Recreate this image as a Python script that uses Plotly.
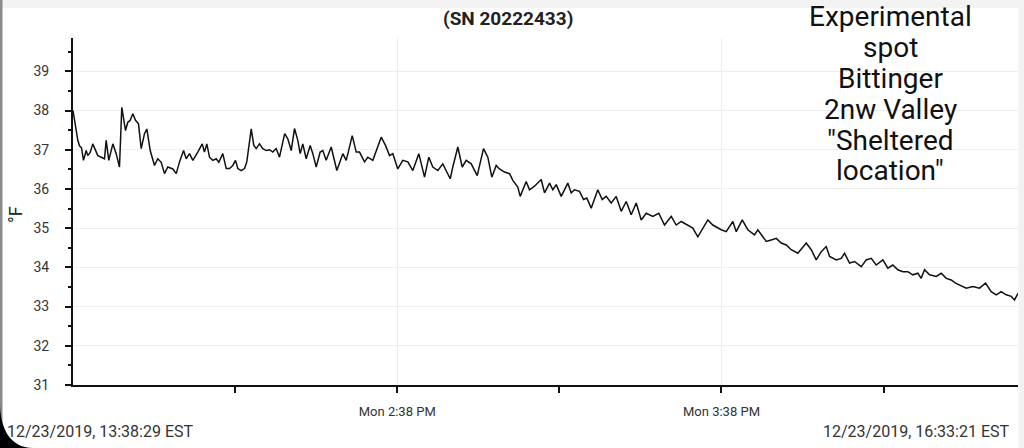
import datetime as dt
import plotly.graph_objects as go

# ---------------- data ----------------
start_time = "2019-12-23 13:38:29"
end_time = "2019-12-23 16:33:21"

# elapsed minutes since start
minutes = [
    0.00, 0.46, 0.89, 1.20, 1.57, 1.94, 2.44, 2.74, 3.18, 3.66, 4.29, 4.59, 5.22, 5.83,
    6.14, 6.62, 7.37, 7.99, 8.60, 9.03, 9.72, 10.14, 10.58, 11.07, 11.57, 12.12, 12.62,
    13.23, 13.66, 14.29, 15.08, 15.69, 16.32, 16.93, 17.54, 18.47, 19.10, 19.71, 20.46,
    20.95, 21.56, 22.17, 23.09, 23.91, 24.33, 24.76, 25.26, 25.87, 26.50, 26.98, 27.72,
    28.35, 28.96, 29.57, 30.07, 30.50, 31.13, 31.74, 32.16, 32.98, 33.46, 33.90, 34.51,
    35.12, 35.75, 36.36, 36.97, 37.60, 38.21,
    39.17, 39.75, 40.38, 40.99, 41.60, 42.04, 42.52, 43.15, 43.89, 44.38, 45.00, 45.74,
    46.23, 46.85, 47.78, 48.82, 49.93, 50.56, 51.67, 52.41, 53.02, 53.94, 54.55, 55.48,
    56.11, 57.03, 57.83, 58.57, 59.18, 60.10, 61.03, 61.96, 62.88, 63.99, 65.05, 65.84,
    66.58, 67.51, 68.43, 69.06, 69.80, 70.28, 71.21, 72.02, 72.76, 73.69, 74.80, 75.96,
    76.76, 77.50, 78.31, 78.92, 79.85, 80.78, 81.39, 82.31, 82.75,
    83.86, 84.47, 85.40, 86.64, 87.25, 88.18, 88.79, 89.42, 90.34, 91.56, 92.19, 92.80,
    93.73, 94.47, 95.08, 95.89, 97.11, 97.93, 98.67, 99.59, 100.52, 101.44, 102.37,
    103.29, 104.22, 105.15, 106.07, 107.29, 108.40, 109.46, 110.70, 111.62, 112.55,
    113.77, 114.69, 115.62, 116.54, 117.47, 118.39, 119.32, 119.95, 120.87, 122.10,
    122.73, 123.84, 124.87, 126.11,
    126.72, 127.35, 128.28, 129.20, 130.13, 131.05, 131.98, 132.90, 134.13, 135.68,
    136.61, 137.53, 138.46, 139.38, 140.00, 141.23, 142.16, 142.77, 143.70, 144.62,
    145.86, 146.78, 147.71, 148.63, 149.86, 150.78, 151.71, 152.63, 153.56, 154.48,
    155.41, 156.33, 156.96, 157.57, 158.50, 159.74, 160.66, 161.59, 162.51, 163.31,
    164.05, 165.29, 166.51, 167.75, 168.86, 169.91, 170.84, 171.76, 172.69, 173.61,
    174.22, 174.87,
]

# temperature, degrees F
temps_f = [
    38.00, 37.60, 37.24, 37.10, 37.05, 36.73, 36.98, 36.85, 36.93, 37.15, 36.94, 36.85,
    36.81, 36.77, 37.24, 36.73, 37.15, 36.90, 36.56, 38.08, 37.49, 37.70, 37.75, 37.92,
    37.75, 37.66, 37.03, 37.41, 37.53, 36.98, 36.60, 36.77, 36.68, 36.39, 36.56, 36.51,
    36.39, 36.69, 36.98, 36.77, 36.90, 36.73, 36.94, 37.15, 36.94, 37.15, 36.81, 36.73,
    36.77, 36.68, 36.90, 36.52, 36.52, 36.60, 36.73, 36.52, 36.47, 36.52, 36.69, 37.53,
    37.11, 37.03, 37.15, 37.03, 36.98, 37.00, 36.94, 37.03, 36.81,
    37.41, 37.28, 36.98, 37.54, 37.24, 36.90, 37.15, 36.77, 37.11, 36.90, 36.56, 36.94,
    36.98, 36.73, 37.07, 36.47, 36.90, 36.73, 37.36, 36.94, 36.94, 36.69, 36.81, 36.73,
    36.98, 37.32, 37.11, 36.85, 36.90, 36.51, 36.73, 36.69, 36.47, 36.90, 36.30, 36.81,
    36.56, 36.47, 36.64, 36.47, 36.26, 36.56, 37.07, 36.56, 36.73, 36.64, 36.34, 37.03,
    36.81, 36.30, 36.60, 36.51, 36.43, 36.39, 36.22, 36.05, 35.81,
    36.19, 35.98, 36.07, 36.24, 35.90, 36.15, 35.98, 36.11, 35.81, 36.15, 35.90, 35.98,
    35.94, 35.73, 35.77, 35.51, 35.98, 35.73, 35.81, 35.64, 35.81, 35.43, 35.68,
    35.34, 35.64, 35.21, 35.38, 35.30, 35.38, 35.08, 35.30, 35.08, 35.17,
    35.08, 35.00, 34.78, 35.00, 35.21, 35.08, 35.00, 34.96, 34.91, 35.17,
    34.91, 35.21, 34.96, 34.83,
    34.96, 34.83, 34.66, 34.70, 34.74, 34.62, 34.57, 34.45, 34.36, 34.62,
    34.45, 34.19, 34.40, 34.53, 34.28, 34.19, 34.23, 34.36, 34.11, 34.15,
    34.02, 34.19, 34.23, 34.06, 34.19, 33.98, 34.06, 33.94, 33.89, 33.89,
    33.81, 33.85, 33.72, 33.94, 33.81, 33.77, 33.85, 33.72, 33.68, 33.60,
    33.55, 33.47, 33.51, 33.47, 33.60, 33.38, 33.30, 33.38, 33.30, 33.26,
    33.17, 33.34,
]

y_ticks = [31, 32, 33, 34, 35, 36, 37, 38, 39]
x_tick_minutes = [30, 60, 90, 120, 150]
x_tick_text = ["", "Mon 2:38 PM", "", "Mon 3:38 PM", ""]
title_text = "(SN 20222433)"
note_lines = ["Experimental", "spot", "Bittinger", "2nw Valley", "\"Sheltered", "location\""]
start_label = "12/23/2019, 13:38:29 EST"
end_label = "12/23/2019, 16:33:21 EST"
y_label = "°F"

# ---------------- figure ----------------
W, H = 1024, 448
ML, MR, MT, MB = 73, 6, 38, 63
PW, PH = W - ML - MR, H - MT - MB


def px(x):
    return (x - ML) / PW


def py(y):
    return (H - MB - y) / PH


t0 = dt.datetime.strptime(start_time, "%Y-%m-%d %H:%M:%S")
t1 = dt.datetime.strptime(end_time, "%Y-%m-%d %H:%M:%S")
times = [t0 + dt.timedelta(minutes=m) for m in minutes]
tickvals = [t0 + dt.timedelta(minutes=m) for m in x_tick_minutes]
gridvals = [v for v, t in zip(tickvals, x_tick_text) if t]

fig = go.Figure()
fig.add_trace(go.Scatter(x=times, y=temps_f, mode="lines",
                         line=dict(color="#111111", width=1.5), hoverinfo="skip",
                         showlegend=False))

fig.update_layout(
    width=W, height=H,
    margin=dict(l=ML, r=MR, t=MT, b=MB, pad=0),
    paper_bgcolor="white", plot_bgcolor="white",
    font=dict(family="Roboto, sans-serif", color="#333333"),
    showlegend=False,
)

fig.update_xaxes(
    type="date", range=[t0, t1],
    tickmode="array", tickvals=tickvals, ticktext=x_tick_text,
    ticks="outside", ticklen=6, tickwidth=1.5, tickcolor="#111111",
    showgrid=False, zeroline=False,
    showline=True, linecolor="#111111", linewidth=2,
    tickfont=dict(size=13, color="#333333"),
    ticklabelstandoff=7,
    minor=dict(tickmode="array", tickvals=gridvals, showgrid=True,
               gridcolor="#eeeeee", gridwidth=1, ticks=""),
)

fig.update_yaxes(
    range=[31, 39.85],
    tickmode="array", tickvals=y_ticks,
    ticks="outside", ticklen=6, tickwidth=1.5, tickcolor="#111111",
    showgrid=True, gridcolor="#eeeeee", gridwidth=1, zeroline=False,
    showline=True, linecolor="#111111", linewidth=2,
    tickfont=dict(size=14, color="#333333"),
    ticklabelstandoff=13,
    minor=dict(dtick=0.5, tick0=31.5, ticks="outside", ticklen=3, tickwidth=1.5,
               tickcolor="#111111", showgrid=False),
)

annotations = [
    dict(text=f"<b>{title_text}</b>", x=px(508), y=py(18), xref="paper", yref="paper",
         showarrow=False, xanchor="center", yanchor="middle",
         font=dict(size=19, color="#222222", family="Roboto, sans-serif")),
    dict(text=y_label, x=px(15), y=py(215), xref="paper", yref="paper", textangle=-90,
         showarrow=False, xanchor="center", yanchor="middle",
         font=dict(size=18, color="#222222")),
    dict(text=start_label, x=px(5), y=py(431), xref="paper", yref="paper",
         showarrow=False, xanchor="left", yanchor="middle",
         font=dict(size=16, color="#333333")),
    dict(text=end_label, x=px(1012), y=py(431), xref="paper", yref="paper",
         showarrow=False, xanchor="right", yanchor="middle",
         font=dict(size=16, color="#333333")),
]
note_centers = [16, 47, 78, 109, 140, 171]
for line, yc in zip(note_lines, note_centers):
    annotations.append(dict(text=line, x=px(890), y=py(yc), xref="paper", yref="paper",
                            showarrow=False, xanchor="center", yanchor="middle",
                            font=dict(size=28, color="#111111", family="Roboto, sans-serif")))
fig.update_layout(annotations=annotations)

# screenshot frame decorations
shapes = [
    dict(type="rect", xref="paper", yref="paper", x0=px(0), x1=px(1024), y0=py(0), y1=py(8),
         fillcolor="#f3f3f3", line=dict(width=0), layer="below"),
    dict(type="rect", xref="paper", yref="paper", x0=px(1018.5), x1=px(1024), y0=py(0), y1=py(448),
         fillcolor="#f2f2f2", line=dict(width=0), layer="below"),
    dict(type="rect", xref="paper", yref="paper", x0=px(0), x1=px(2.5), y0=py(0), y1=py(448),
         fillcolor="#8c8c8c", line=dict(width=0), layer="above"),
    dict(type="path", xref="paper", yref="paper",
         path=(f"M {px(0)},{py(403)} C {px(0)},{py(428)} {px(10)},{py(448)} {px(33)},{py(448)} "
               f"L {px(0)},{py(448)} Z"),
         fillcolor="#000000", line=dict(width=0), layer="above"),
]
fig.update_layout(shapes=shapes)

fig.write_html("out.html", config={"displayModeBar": False})

# remove default page margin so the figure sits at the window's top-left corner
with open("out.html", "r", encoding="utf-8") as fh:
    html = fh.read()
html = html.replace("<head>", "<head><style>html,body{margin:0;padding:0;overflow:hidden;}</style>", 1)
with open("out.html", "w", encoding="utf-8") as fh:
    fh.write(html)
